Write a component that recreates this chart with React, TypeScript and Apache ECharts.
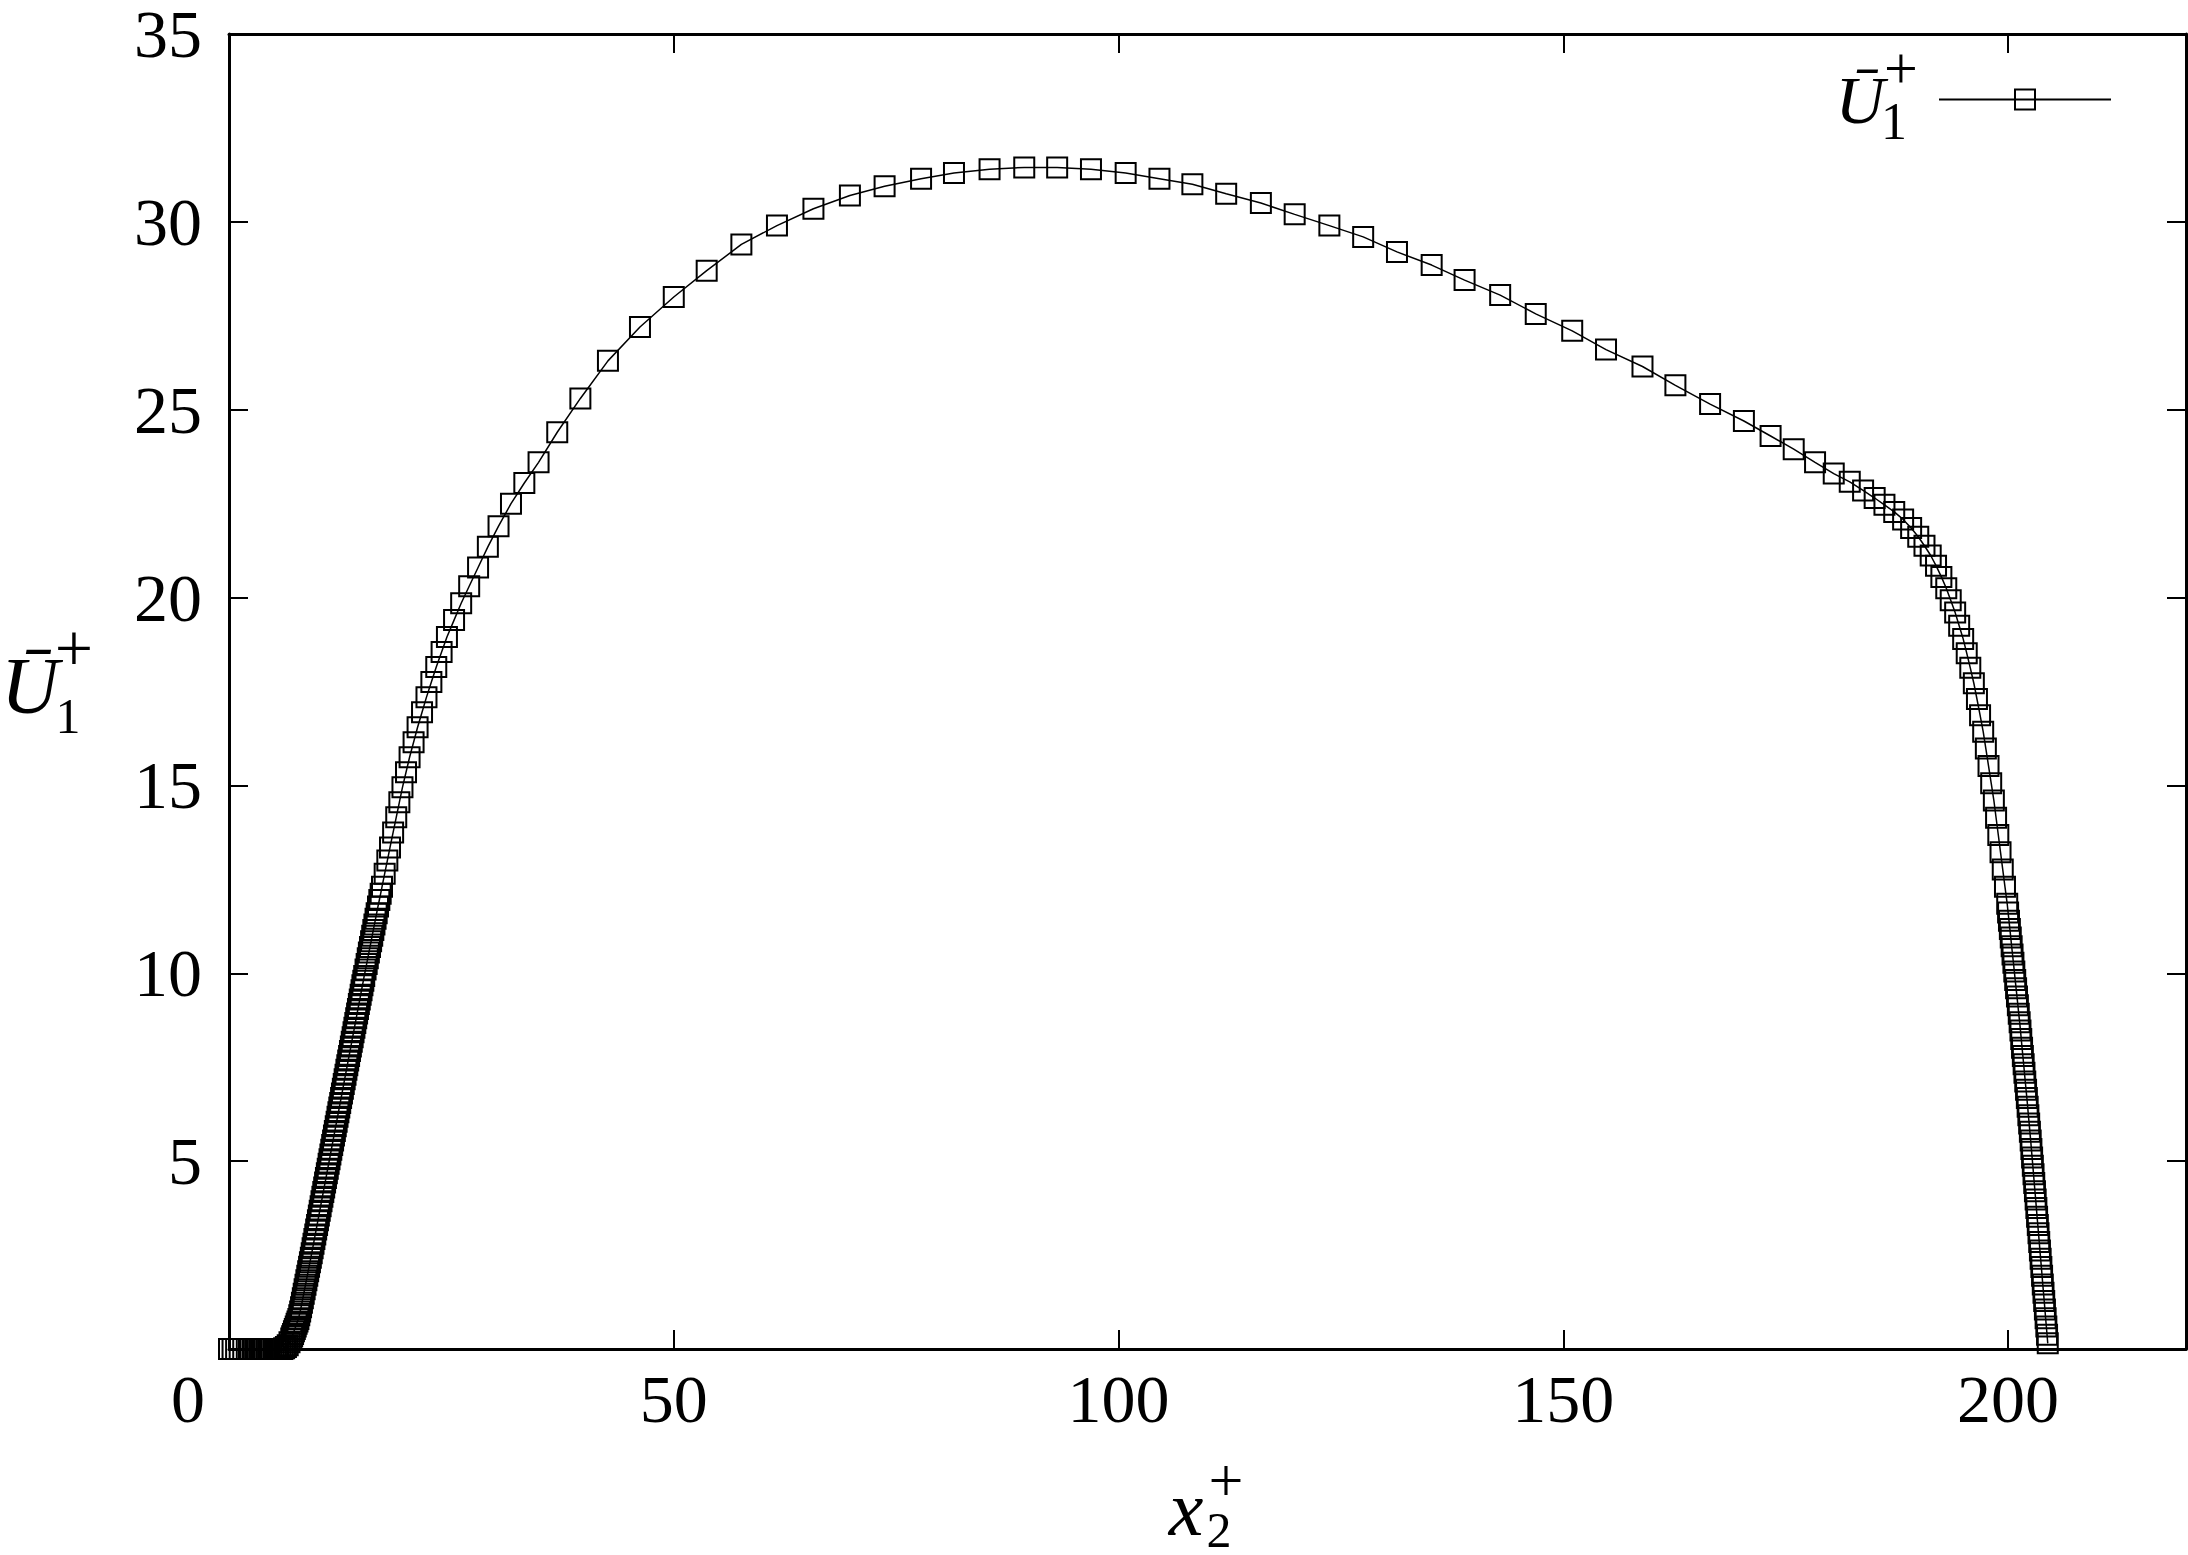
import React, { useEffect, useRef } from 'react';
import * as echarts from 'echarts';

// x-axis tick labels and y-axis tick labels
const xTickValues = [0, 50, 100, 150, 200];
const xTickMarks = [50, 100, 150, 200];
const yTickValues = [5, 10, 15, 20, 25, 30, 35];
const yTickMarks = [5, 10, 15, 20, 25, 30];

const seriesName = 'U1+';

// wall-normal coordinate x2+
const profileX = [
  0.0, 0.4, 0.8, 1.2, 1.6, 2.0, 2.4, 2.8, 3.0, 3.2, 3.4, 3.6, 3.8, 4.0, 4.2, 4.4,
  4.6, 4.8, 5.0, 5.2, 5.4, 5.6, 5.8, 6.0, 6.2, 6.4, 6.6, 6.8,
  7.0, 7.1, 7.2, 7.3, 7.4, 7.5, 7.6, 7.7, 7.8, 7.9,
  8.0, 8.1, 8.2, 8.3, 8.4, 8.5, 8.6, 8.7, 8.8, 8.9,
  9.0, 9.1, 9.2, 9.3, 9.4, 9.5, 9.6, 9.7, 9.8, 9.9,
  10.0, 10.1, 10.2, 10.3, 10.4, 10.5, 10.6, 10.7, 10.8, 10.9,
  11.0, 11.1, 11.2, 11.3, 11.4, 11.5, 11.6, 11.7, 11.8, 11.9,
  12.0, 12.1, 12.2, 12.3, 12.4, 12.5, 12.6, 12.7, 12.8, 12.9,
  13.0, 13.1, 13.2, 13.3, 13.4, 13.5, 13.6, 13.7, 13.8, 13.9,
  14.0, 14.1, 14.2, 14.3, 14.4, 14.5, 14.6, 14.7, 14.8, 14.9,
  15.0, 15.1, 15.2, 15.35, 15.475, 15.6, 15.725, 15.85, 15.975, 16.1, 16.225,
  16.35, 16.475, 16.6, 16.75, 16.9, 17.05, 17.2, 17.5, 17.8, 18.1, 18.45,
  18.8, 19.15, 19.5, 19.9, 20.3, 20.75, 21.2, 21.7, 22.2, 22.75, 23.3, 23.9,
  24.5, 25.3, 26.1, 27.0, 28.0, 29.1, 30.3, 31.7, 33.2, 34.8, 36.9, 39.5, 42.6,
  46.2, 50.0, 53.7, 57.6, 61.6, 65.7, 69.8, 73.7, 77.8, 81.5, 85.5, 89.4, 93.1,
  96.9, 100.8, 104.6, 108.3, 112.1, 116.0, 119.8, 123.7, 127.5, 131.3, 135.2,
  138.9, 142.9, 146.9, 151.0, 154.8, 158.9, 162.6, 166.5, 170.3, 173.3, 175.9,
  178.3, 180.4, 182.2, 183.7, 185.0, 186.1, 187.2, 188.2, 189.1, 189.9, 190.6,
  191.3, 191.9, 192.5, 193.05, 193.55, 194.05, 194.5, 194.95, 195.35, 195.75,
  196.15, 196.5, 196.85, 197.2, 197.5, 197.8, 198.1, 198.4, 198.65, 198.9,
  199.15, 199.4, 199.65, 199.9, 200.0, 200.1, 200.2, 200.3, 200.4, 200.5, 200.6,
  200.7, 200.8, 200.9, 201.0, 201.1, 201.2, 201.3, 201.39, 201.48, 201.57,
  201.66, 201.75, 201.84, 201.93, 202.02, 202.11, 202.2, 202.28, 202.37, 202.45,
  202.54, 202.62, 202.7, 202.78, 202.86, 202.94, 203.02, 203.1, 203.18, 203.26,
  203.34, 203.42, 203.5, 203.58, 203.66, 203.74, 203.82, 203.9, 203.98, 204.06,
  204.14, 204.22, 204.3, 204.38, 204.46,
];

// mean velocity U1+
const profileU = [
  0, 0, 0, 0, 0, 0, 0, 0, 0, 0, 0, 0, 0, 0, 0, 0,
  0, 0, 0, 0, 0, 0, 0, 0, 0.02, 0.05, 0.1, 0.18,
  0.28, 0.34, 0.4, 0.47, 0.53, 0.6, 0.67, 0.73, 0.8, 0.9,
  1.0, 1.11, 1.23, 1.35, 1.47, 1.59, 1.71, 1.83, 1.95, 2.07,
  2.19, 2.31, 2.43, 2.55, 2.68, 2.8, 2.93, 3.05, 3.18, 3.3,
  3.43, 3.55, 3.68, 3.8, 3.93, 4.05, 4.18, 4.3, 4.43, 4.55,
  4.68, 4.8, 4.93, 5.05, 5.18, 5.3, 5.43, 5.55, 5.68, 5.8,
  5.93, 6.05, 6.18, 6.3, 6.43, 6.55, 6.68, 6.8, 6.93, 7.05,
  7.18, 7.3, 7.43, 7.55, 7.68, 7.8, 7.93, 8.05, 8.18, 8.3,
  8.43, 8.55, 8.68, 8.8, 8.93, 9.05, 9.18, 9.3, 9.43, 9.55,
  9.68, 9.8, 9.93, 10.1, 10.25, 10.4, 10.55, 10.7, 10.85, 11.0, 11.15,
  11.3, 11.45, 11.6, 11.78, 11.95, 12.12, 12.3, 12.65, 13.0, 13.35, 13.75,
  14.15, 14.55, 14.95, 15.35, 15.75, 16.15, 16.55, 16.95, 17.35, 17.75, 18.15, 18.55,
  18.95, 19.4, 19.85, 20.3, 20.8, 21.35, 21.9, 22.5, 23.05, 23.6, 24.4, 25.3, 26.3,
  27.2, 28.0, 28.7, 29.4, 29.9, 30.35, 30.7, 30.95, 31.15, 31.3, 31.4, 31.45, 31.45,
  31.4, 31.3, 31.15, 31.0, 30.75, 30.5, 30.2, 29.9, 29.6, 29.2, 28.85,
  28.45, 28.05, 27.55, 27.1, 26.6, 26.15, 25.65, 25.15, 24.7, 24.3, 23.95,
  23.6, 23.3, 23.08, 22.85, 22.65, 22.47, 22.28, 22.08, 21.85, 21.62, 21.38,
  21.12, 20.85, 20.55, 20.25, 19.93, 19.6, 19.25, 18.9, 18.52, 18.13,
  17.72, 17.3, 16.87, 16.43, 15.98, 15.52, 15.06, 14.6, 14.14, 13.68,
  13.22, 12.76, 12.3, 11.85, 11.62, 11.4, 11.18, 10.95, 10.72, 10.5, 10.28,
  10.05, 9.82, 9.6, 9.38, 9.15, 8.92, 8.7, 8.48, 8.25, 8.02,
  7.8, 7.58, 7.35, 7.12, 6.9, 6.68, 6.45, 6.22, 6.0, 5.78,
  5.55, 5.32, 5.1, 4.88, 4.65, 4.42, 4.2, 3.98, 3.75, 3.52,
  3.3, 3.08, 2.85, 2.62, 2.4, 2.18, 1.95, 1.72, 1.5, 1.28,
  1.05, 0.82, 0.6, 0.38, 0.15,
];

const FONT = '"Liberation Serif", "Times New Roman", serif';

function txt(text: string, x: number, y: number, size: number, italic = false) {
  return {
    type: 'text',
    x,
    y,
    silent: true,
    style: {
      text,
      fontFamily: FONT,
      fontSize: size,
      lineHeight: Math.round(size * 0.8),
      fontStyle: italic ? 'italic' : 'normal',
      fill: '#000',
      textAlign: 'center',
      textVerticalAlign: 'middle',
    },
  };
}

export default function App() {
  const ref = useRef<HTMLDivElement>(null);

  useEffect(() => {
    if (!ref.current) return;
    const chart = echarts.init(ref.current, null, { renderer: 'svg' });
    const data = profileX.map((x, i) => [x, profileU[i]]);
    const axisLineStyle = { color: '#000', width: 3 };
    const tickStyle = { color: '#000', width: 2 };
    const labelStyle = { color: '#000', fontFamily: FONT, fontSize: 68, lineHeight: 56 };

    chart.setOption({
      animation: false,
      backgroundColor: '#fff',
      grid: { left: 229, right: 2, top: 32, bottom: 206, containLabel: false },
      legend: {
        show: true,
        left: 1933,
        top: 82,
        itemWidth: 172,
        itemHeight: 25,
        formatter: () => '',
        textStyle: { fontSize: 1 },
        data: [seriesName],
      },
      xAxis: [
        {
          type: 'value',
          min: 0,
          max: 220,
          interval: 50,
          position: 'bottom',
          axisLine: { show: true, onZero: false, lineStyle: axisLineStyle },
          axisTick: { show: true, inside: true, length: 19, lineStyle: tickStyle, customValues: xTickMarks },
          axisLabel: {
            ...labelStyle,
            margin: 22,
            customValues: xTickValues,
            formatter: (v: number) => (v === 0 ? '{z|0}' : String(v)),
            rich: { z: { fontFamily: FONT, fontSize: 68, lineHeight: 56, color: '#000', padding: [0, 82, 0, 0] } },
          },
          splitLine: { show: false },
        },
        {
          type: 'value',
          min: 0,
          max: 220,
          interval: 50,
          position: 'top',
          axisLine: { show: true, onZero: false, lineStyle: axisLineStyle },
          axisTick: { show: true, inside: true, length: 19, lineStyle: tickStyle, customValues: xTickMarks },
          axisLabel: { show: false },
          splitLine: { show: false },
        },
      ],
      yAxis: [
        {
          type: 'value',
          min: 0,
          max: 35,
          interval: 5,
          position: 'left',
          axisLine: { show: true, onZero: false, lineStyle: axisLineStyle },
          axisTick: { show: true, inside: true, length: 19, lineStyle: tickStyle, customValues: yTickMarks },
          axisLabel: { ...labelStyle, margin: 27, customValues: yTickValues },
          splitLine: { show: false },
        },
        {
          type: 'value',
          min: 0,
          max: 35,
          interval: 5,
          position: 'right',
          axisLine: { show: true, onZero: false, lineStyle: axisLineStyle },
          axisTick: { show: true, inside: true, length: 19, lineStyle: tickStyle, customValues: yTickMarks },
          axisLabel: { show: false },
          splitLine: { show: false },
        },
      ],
      series: [
        {
          name: seriesName,
          type: 'line',
          xAxisIndex: 0,
          yAxisIndex: 0,
          data,
          symbol: 'rect',
          symbolSize: 20,
          showSymbol: true,
          showAllSymbol: true,
          clip: false,
          lineStyle: { color: '#000', width: 1.5 },
          itemStyle: { color: 'rgba(0,0,0,0)', borderColor: '#000', borderWidth: 2 },
          emphasis: { disabled: true },
        },
      ],
      graphic: [
        // y-axis name
        txt('\u016A', 30, 686, 80, true),
        txt('+', 74, 648, 68),
        txt('1', 68, 716, 50),
        // x-axis name
        txt('x', 1186, 1508, 78, true),
        txt('+', 1226, 1480, 62),
        txt('2', 1219, 1530, 50),
        // legend label
        txt('\u016A', 1860, 100, 68, true),
        txt('+', 1901, 68, 60),
        txt('1', 1894, 121, 52),
      ],
    });
    return () => chart.dispose();
  }, []);

  return (
    <div
      ref={ref}
      style={{ position: 'fixed', left: 0, top: 0, width: 2188, height: 1555, background: '#fff' }}
    />
  );
}
